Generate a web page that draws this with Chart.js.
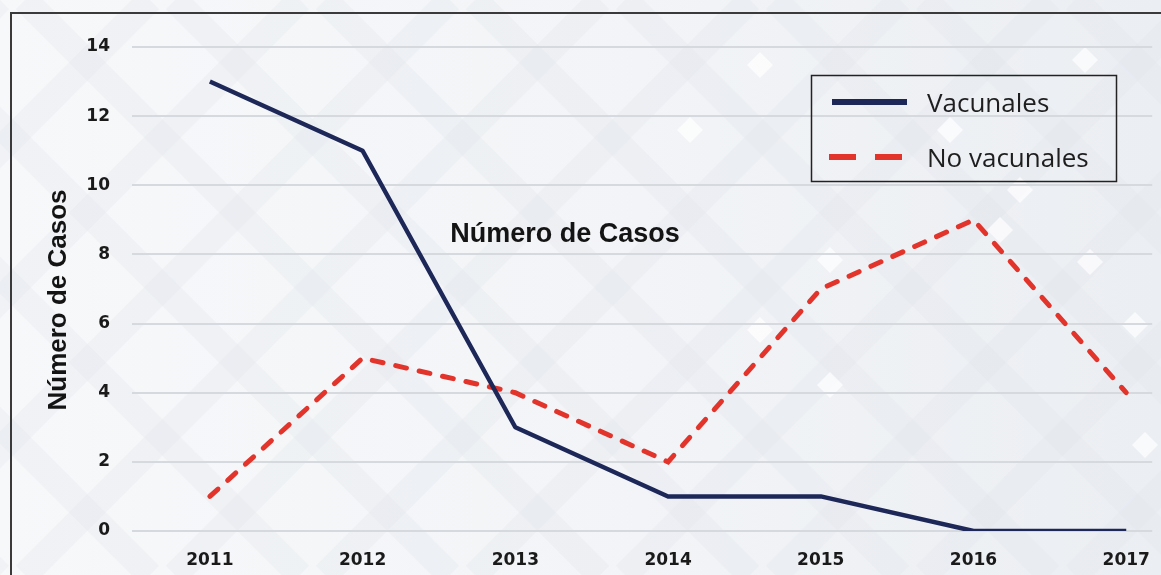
<!DOCTYPE html>
<html>
<head>
<meta charset="utf-8">
<script src="https://cdn.jsdelivr.net/npm/chart.js@4/dist/chart.umd.min.js"></script>
<style>
  html, body { margin: 0; padding: 0; background: #eef0f4; }
  #wrap { width: 1161px; height: 575px; }
</style>
</head>
<body>
<div id="wrap"><canvas id="casos-chart" width="1161" height="575"></canvas></div>
<script>
const years = [2011, 2012, 2013, 2014, 2015, 2016, 2017]
const vacunales = [13, 11, 3, 1, 1, 0, 0]
const noVacunales = [1, 5, 4, 2, 7, 9, 4]
const yTicks = [0, 2, 4, 6, 8, 10, 12, 14]

const navy = '#1d2859'
const red = '#e2342b'

// fondo con rombos suaves
const backdrop = {
  id: 'backdrop',
  beforeDraw(chart) {
    const ctx = chart.ctx
    const w = chart.width, h = chart.height
    ctx.save()
    const g = ctx.createLinearGradient(0, 0, w, 0)
    g.addColorStop(0, '#f7f8fa')
    g.addColorStop(0.55, '#f2f4f7')
    g.addColorStop(1, '#ebeef2')
    ctx.fillStyle = g
    ctx.fillRect(0, 0, w, h)
    ctx.strokeStyle = 'rgba(226,230,236,0.3)'
    ctx.lineWidth = 26
    const step = 150
    for (let k = -h; k < w + h; k += step) {
      ctx.beginPath(); ctx.moveTo(k, 0); ctx.lineTo(k + h, h); ctx.stroke()
      ctx.beginPath(); ctx.moveTo(k, h); ctx.lineTo(k + h, 0); ctx.stroke()
    }
    ctx.fillStyle = 'rgba(255,255,255,0.7)'
    const dots = [[760, 65], [1085, 60], [690, 130], [1000, 230], [1090, 262], [830, 260], [760, 330], [830, 385], [1135, 325], [1145, 445], [950, 130], [1020, 190]]
    dots.forEach(([x, y]) => {
      ctx.beginPath(); ctx.moveTo(x, y - 13); ctx.lineTo(x + 13, y); ctx.lineTo(x, y + 13); ctx.lineTo(x - 13, y); ctx.closePath(); ctx.fill()
    })
    // marco
    ctx.strokeStyle = '#3a3a3a'
    ctx.lineWidth = 2
    ctx.beginPath(); ctx.moveTo(w, 13); ctx.lineTo(11, 13); ctx.lineTo(11, h); ctx.stroke()
    ctx.restore()
  }
}

// titulo interior, titulo del eje y leyenda en recuadro
const extras = {
  id: 'extras',
  afterDraw(chart) {
    const ctx = chart.ctx
    ctx.save()
    ctx.fillStyle = '#141414'
    ctx.font = 'bold 27px "Liberation Sans", Arial, sans-serif'
    ctx.textAlign = 'center'
    ctx.textBaseline = 'middle'
    ctx.fillText('Número de Casos', 565, 235)
    ctx.translate(59, 300)
    ctx.rotate(-Math.PI / 2)
    ctx.font = 'bold 26px "Liberation Sans", Arial, sans-serif'
    ctx.fillText('Número de Casos', 0, 0)
    ctx.restore()

    ctx.save()
    ctx.strokeStyle = '#222'
    ctx.lineWidth = 1.5
    ctx.strokeRect(811.5, 75.5, 305, 106)
    const items = chart.data.datasets
    const rows = [102, 157]
    const dashes = [[], [27, 19]]
    items.forEach((ds, i) => {
      const y = rows[i]
      ctx.strokeStyle = ds.borderColor
      ctx.lineWidth = 6
      ctx.setLineDash(dashes[i])
      ctx.beginPath(); ctx.moveTo(i ? 829 : 832, y); ctx.lineTo(i ? 902 : 907, y); ctx.stroke()
      ctx.setLineDash([])
      ctx.fillStyle = '#1e1e1e'
      ctx.font = '26px "Open Sans", sans-serif'
      ctx.textAlign = 'left'
      ctx.textBaseline = 'middle'
      ctx.fillText(ds.label, 927, y + 3)
    })
    ctx.restore()
  }
}

const data = {
  datasets: [{
    label: 'Vacunales',
    data: years.map((y, i) => ({ x: y, y: vacunales[i] })),
    borderColor: navy,
    borderWidth: 4.5,
    borderJoinStyle: 'round',
    pointRadius: 0,
    tension: 0
  }, {
    label: 'No vacunales',
    data: years.map((y, i) => ({ x: y, y: noVacunales[i] })),
    borderColor: red,
    borderWidth: 5,
    borderDash: [11, 13],
    borderCapStyle: 'round',
    pointRadius: 0,
    tension: 0
  }]
}

const config = {
  type: 'line',
  data: data,
  options: {
    responsive: false,
    animation: false,
    layout: { padding: { left: 0, top: 47, right: 4, bottom: 0 } },
    plugins: { legend: { display: false }, tooltip: { enabled: false } },
    scales: {
      x: {
        type: 'linear',
        min: 2011 - 78 / 153,
        max: 2017 + 26 / 153,
        afterBuildTicks: scale => { scale.ticks = years.map(v => ({ value: v })) },
        afterFit: scale => { scale.height = 44 },
        grid: { display: false },
        border: { display: false },
        ticks: {
          color: '#1a1a1a',
          padding: 11,
          font: { family: 'DejaVu Sans', size: 17, weight: 'bold' },
          callback: v => String(v)
        }
      },
      y: {
        min: 0,
        max: 14,
        afterBuildTicks: scale => { scale.ticks = yTicks.map(v => ({ value: v })) },
        afterFit: scale => { scale.width = 132 },
        grid: { color: '#d6d9de', lineWidth: 2, drawTicks: false },
        border: { display: false },
        ticks: {
          color: '#1a1a1a',
          padding: 22,
          font: { family: 'DejaVu Sans', size: 17, weight: 'bold' }
        }
      }
    }
  },
  plugins: [backdrop, extras]
}

new Chart(document.getElementById('casos-chart').getContext('2d'), config)
</script>
</body>
</html>
